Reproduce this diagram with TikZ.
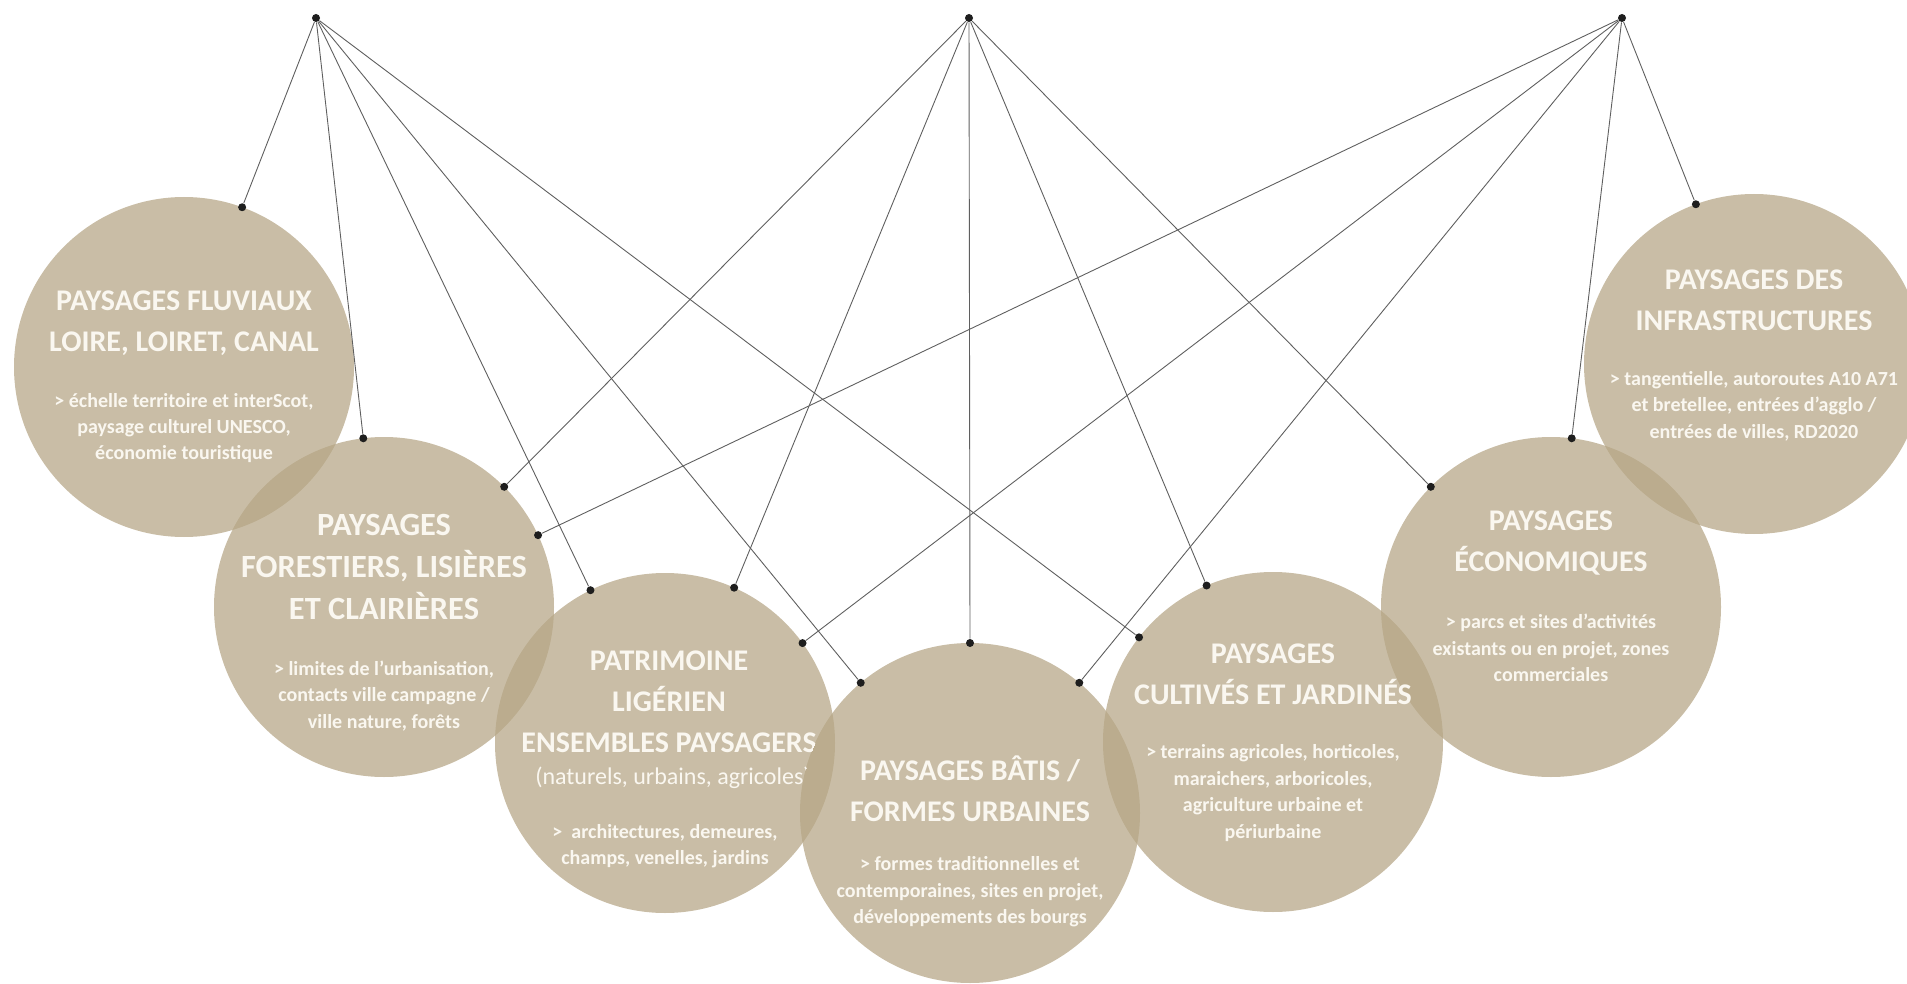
\documentclass[tikz,border=0pt]{standalone}
\usepackage{fontspec}
\setmainfont{Carlito}
\usepackage{xcolor}
\usepackage{tikz}
\pgfdeclarelayer{bg}
\pgfsetlayers{bg,main}
\definecolor{sable}{RGB}{181,165,133}
\definecolor{creme}{RGB}{250,247,240}
\definecolor{fil}{RGB}{95,95,95}
\definecolor{pastille}{RGB}{30,30,30}
\tikzset{
  zone/.style={circle, fill=sable, fill opacity=0.73, minimum size=170pt, inner sep=0pt, outer sep=0pt},
  heading/.style={text=creme, font=\bfseries\fontsize{15}{20.5}\selectfont, align=center, inner sep=0pt},
  blurb/.style={text=creme, font=\bfseries\fontsize{10}{13.2}\selectfont, align=center, inner sep=0pt},
  aside/.style={text=creme, font=\fontsize{12}{14}\selectfont, inner sep=0pt},
  link/.style={draw=fil, line width=0.45pt},
  knot/.style={circle, fill=pastille, inner sep=0pt, minimum size=4pt},
}

\begin{document}
\begin{tikzpicture}[x=0.5pt,y=-0.5pt]
			\useasboundingbox (0,0) rectangle (1907,984);
			% cercles
			\begin{pgfonlayer}{bg}
			\node[zone] (flu) at (184,367){};
			\node[zone] (forest) at (384,607){};
			\node[zone] (patri) at (665,743){};
			\node[zone] (culti) at (1273,742){};
			\node[zone] (eco) at (1551,607){};
			\node[zone] (infra) at (1754,364){};
			\node[zone] (bati) at (970,813){};
			\end{pgfonlayer}
			% textes
			\node[heading] (flutitle) at (184,323){PAYSAGES FLUVIAUX\\LOIRE, LOIRET, CANAL};
			\node[blurb] (flutext) at (184,428){> échelle territoire et interScot,\\paysage culturel UNESCO,\\économie touristique};
			\node[heading, font=\bfseries\fontsize{16.2}{21}\selectfont] (foresttitle) at (384,567){PAYSAGES\\FORESTIERS, LISIÈRES\\ET CLAIRIÈRES};
			\node[blurb] (foresttext) at (384,696){> limites de l’urbanisation,\\contacts ville campagne /\\ville nature, forêts};
			\begin{scope}[even odd rule]
			\clip (0,0) rectangle (1907,984) (bati.center) circle[radius=85pt];
			\node[heading] (patrititle) at (669,702){PATRIMOINE\\LIGÉRIEN\\ENSEMBLES PAYSAGERS};
			\node[aside] (patrinote) at (673,778){(naturels, urbains, agricoles)};
			\node[blurb] (patritext) at (665,846){>~ architectures, demeures,\\champs, venelles, jardins};
			\end{scope}
			\node[heading] (batititle) at (970,789){PAYSAGES BÂTIS /\\FORMES URBAINES};
			\node[blurb] (batitext) at (970,892){> formes traditionnelles et\\contemporaines, sites en projet,\\développements des bourgs};
			\node[heading] (cultititle) at (1273,674){PAYSAGES\\CULTIVÉS ET JARDINÉS};
			\node[blurb] (cultitext) at (1273,793){> terrains agricoles, horticoles,\\maraichers, arboricoles,\\agriculture urbaine et\\périurbaine};
			\node[heading] (ecotitle) at (1551,543){PAYSAGES\\ÉCONOMIQUES};
			\node[blurb] (ecotext) at (1551,648){> parcs et sites d’activités\\existants ou en projet, zones\\commerciales};
			\node[heading] (infratitle) at (1754,300){PAYSAGES DES\\INFRASTRUCTURES};
			\node[blurb] (infratext) at (1754,406){> tangentielle, autoroutes A10 A71\\et bretellee, entrées d’agglo /\\entrées de villes, RD2020};
			% points de depart
			\node[knot] (hubW) at (316,18){};
			\node[knot] (hubM) at (969,18){};
			\node[knot] (hubE) at (1622,18){};
			% points sur les cercles
			\node[knot] (flu70) at (flu.70){};
			\node[knot] (forest97) at (forest.97){};
			\node[knot] (forest45) at (forest.45){};
			\node[knot] (forest25) at (forest.25){};
			\node[knot] (patri116) at (patri.116){};
			\node[knot] (patri66) at (patri.66){};
			\node[knot] (patri36) at (patri.36){};
			\node[knot] (bati130) at (bati.130){};
			\node[knot] (bati90) at (bati.90){};
			\node[knot] (bati50) at (bati.50){};
			\node[knot] (culti142) at (culti.142){};
			\node[knot] (culti113) at (culti.113){};
			\node[knot] (eco135) at (eco.135){};
			\node[knot] (eco83) at (eco.83){};
			\node[knot] (infra110) at (infra.110){};
			% liens
			\draw[link] (hubW) -- (flu70);
			\draw[link] (hubW) -- (forest97);
			\draw[link] (hubW) -- (patri116);
			\draw[link] (hubW) -- (bati130);
			\draw[link] (hubW) -- (culti142);
			\draw[link] (hubM) -- (forest45);
			\draw[link] (hubM) -- (patri66);
			\draw[link] (hubM) -- (bati90);
			\draw[link] (hubM) -- (culti113);
			\draw[link] (hubM) -- (eco135);
			\draw[link] (hubE) -- (forest25);
			\draw[link] (hubE) -- (patri36);
			\draw[link] (hubE) -- (bati50);
			\draw[link] (hubE) -- (eco83);
			\draw[link] (hubE) -- (infra110);
		\end{tikzpicture}
\end{document}
